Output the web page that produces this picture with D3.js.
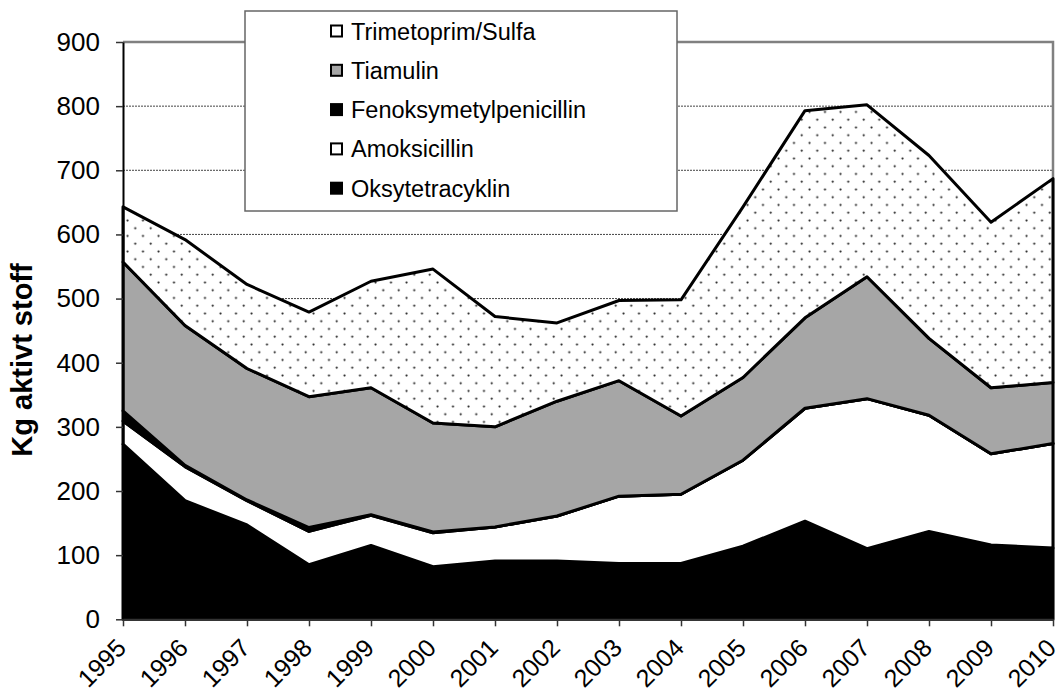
<!DOCTYPE html>
<html>
<head>
<meta charset="utf-8">
<script src="https://cdn.jsdelivr.net/npm/d3@7"></script>
<style>
  body { margin: 0; background: #fff; }
  svg { display: block; font-family: Arial, "Liberation Sans", sans-serif; }
</style>
</head>
<body>
<svg id="chart"></svg>
<script>
/**
 * Data (kg active substance per year).
 */
var years = ["1995", "1996", "1997", "1998", "1999", "2000", "2001", "2002",
             "2003", "2004", "2005", "2006", "2007", "2008", "2009", "2010"];
var oksytetracyklin = [273, 185, 147, 85, 115, 82, 91, 91, 87, 87, 114, 153, 110, 137, 116, 111];
var amoksicillin = [36, 53, 38, 52, 47, 53, 53, 70, 105, 108, 134, 176, 234, 181, 142, 163];
var fenoksymetylpenicillin = [16, 2, 1, 6, 1, 1, 0, 0, 0, 0, 0, 0, 0, 0, 0, 0];
var tiamulin = [232, 218, 205, 204, 198, 170, 156, 179, 180, 122, 129, 141, 190, 120, 103, 95];
var trimetoprimSulfa = [86, 134, 131, 132, 166, 240, 172, 122, 125, 181, 266, 323, 268, 285, 258, 318];
var yTicks = [0, 100, 200, 300, 400, 500, 600, 700, 800, 900];
var seriesNames = ["Oksytetracyklin", "Amoksicillin", "Fenoksymetylpenicillin", "Tiamulin", "Trimetoprim/Sulfa"];
var legendOrder = ["Trimetoprim/Sulfa", "Tiamulin", "Fenoksymetylpenicillin", "Amoksicillin", "Oksytetracyklin"];

var w = 1060;
var h = 696;

// Build rows for d3.stack from the arrays above.
var seriesValues = [oksytetracyklin, amoksicillin, fenoksymetylpenicillin, tiamulin, trimetoprimSulfa];
var rows = years.map(function(yr, i) {
    let r = { year: yr };
    seriesNames.forEach(function(name, k) {
        r[name] = seriesValues[k][i];
    });
    return r;
});

var fills = {
    "Oksytetracyklin": "#000",
    "Amoksicillin": "#fff",
    "Fenoksymetylpenicillin": "#000",
    "Tiamulin": "#a6a6a6",
    "Trimetoprim/Sulfa": "url(#dots)"
};

var svg = d3.select("#chart").attr("width", w).attr("height", h);

// Dotted fill used by Trimetoprim/Sulfa.
var pat = svg.append("defs").append("pattern")
    .attr("id", "dots")
    .attr("patternUnits", "userSpaceOnUse")
    .attr("width", 15.5)
    .attr("height", 15.5);
pat.append("rect").attr("width", 15.5).attr("height", 15.5).attr("fill", "#fff");
pat.append("circle").attr("cx", 3.5).attr("cy", 3.5).attr("r", 1.1).attr("fill", "#222");
pat.append("circle").attr("cx", 11.25).attr("cy", 11.25).attr("r", 1.1).attr("fill", "#222");

var plot = { left: 123, right: 1053, top: 42, bottom: 619.3 };

var x = d3.scalePoint().domain(years).range([plot.left, plot.right]);
var y = d3.scaleLinear().domain([0, 900]).range([plot.bottom, plot.top]);

// Gridlines.
svg.append("g")
    .selectAll("line")
    .data(yTicks.filter(function(d) { return d > 0 && d < 900; }))
    .enter()
    .append("line")
    .attr("x1", plot.left).attr("x2", plot.right)
    .attr("y1", function(d) { return y(d); })
    .attr("y2", function(d) { return y(d); })
    .attr("stroke", "#444")
    .attr("stroke-width", 1)
    .attr("stroke-dasharray", "2,1");

// Plot area border (gray top and right).
svg.append("path")
    .attr("d", "M" + plot.left + "," + plot.top + "H" + plot.right + "V" + plot.bottom)
    .attr("fill", "none")
    .attr("stroke", "#808080")
    .attr("stroke-width", 2.5);

// Stacked areas.
var stack = d3.stack().keys(seriesNames);
var layers = stack(rows);

var area = d3.area()
    .x(function(d) { return x(d.data.year); })
    .y0(function(d) { return y(d[0]); })
    .y1(function(d) { return y(d[1]); });

svg.append("g")
    .selectAll("path")
    .data(layers)
    .enter()
    .append("path")
    .attr("d", area)
    .attr("fill", function(d) { return fills[d.key]; })
    .attr("stroke", "#000")
    .attr("stroke-width", 3)
    .attr("stroke-linejoin", "round");

// Y axis.
var yAxis = svg.append("g")
    .attr("transform", "translate(" + plot.left + ",0)")
    .call(d3.axisLeft(y).tickValues(yTicks).tickSize(7).tickPadding(16).tickSizeOuter(0));
yAxis.select(".domain").attr("stroke", "#000").attr("stroke-width", 2);
yAxis.selectAll(".tick line").attr("stroke", "#333").attr("stroke-width", 1.5);
yAxis.selectAll(".tick text")
    .style("font-size", "26px")
    .style("font-family", "Arial, 'Liberation Sans', sans-serif")
    .attr("fill", "#000");

// X axis.
var xAxis = svg.append("g")
    .attr("transform", "translate(0," + plot.bottom + ")")
    .call(d3.axisBottom(x).tickSize(7).tickSizeOuter(0));
xAxis.select(".domain").attr("stroke", "#333").attr("stroke-width", 2);
xAxis.selectAll(".tick line").attr("stroke", "#333").attr("stroke-width", 1.5);
xAxis.selectAll(".tick text")
    .attr("y", 0)
    .attr("dy", 0)
    .attr("text-anchor", "end")
    .attr("transform", "translate(4,30) rotate(-45)")
    .style("font-size", "25px")
    .style("font-family", "Arial, 'Liberation Sans', sans-serif")
    .attr("fill", "#000");

// Y axis title.
svg.append("text")
    .attr("transform", "translate(32,360) rotate(-90)")
    .attr("text-anchor", "middle")
    .style("font-size", "29px")
    .style("font-weight", "bold")
    .text("Kg aktivt stoff");

// Legend.
var lg = svg.append("g");
lg.append("rect")
    .attr("x", 245).attr("y", 11)
    .attr("width", 432).attr("height", 200)
    .attr("fill", "#fff")
    .attr("stroke", "#666")
    .attr("stroke-width", 1.5);

var item = lg.selectAll(".item")
    .data(legendOrder)
    .enter()
    .append("g")
    .attr("class", "item")
    .attr("transform", function(d, i) {
        return "translate(331," + (39.5 + i * 39.3) + ")";
    });

item.append("rect")
    .attr("x", 0).attr("y", -14)
    .attr("width", 11).attr("height", 11)
    .attr("fill", function(d) {
        return d === "Trimetoprim/Sulfa" ? "#fff" : fills[d];
    })
    .attr("stroke", "#000")
    .attr("stroke-width", 2);

item.append("text")
    .attr("x", 20)
    .attr("y", 0)
    .style("font-size", "23.5px")
    .text(function(d) { return d; });
</script>
</body>
</html>
